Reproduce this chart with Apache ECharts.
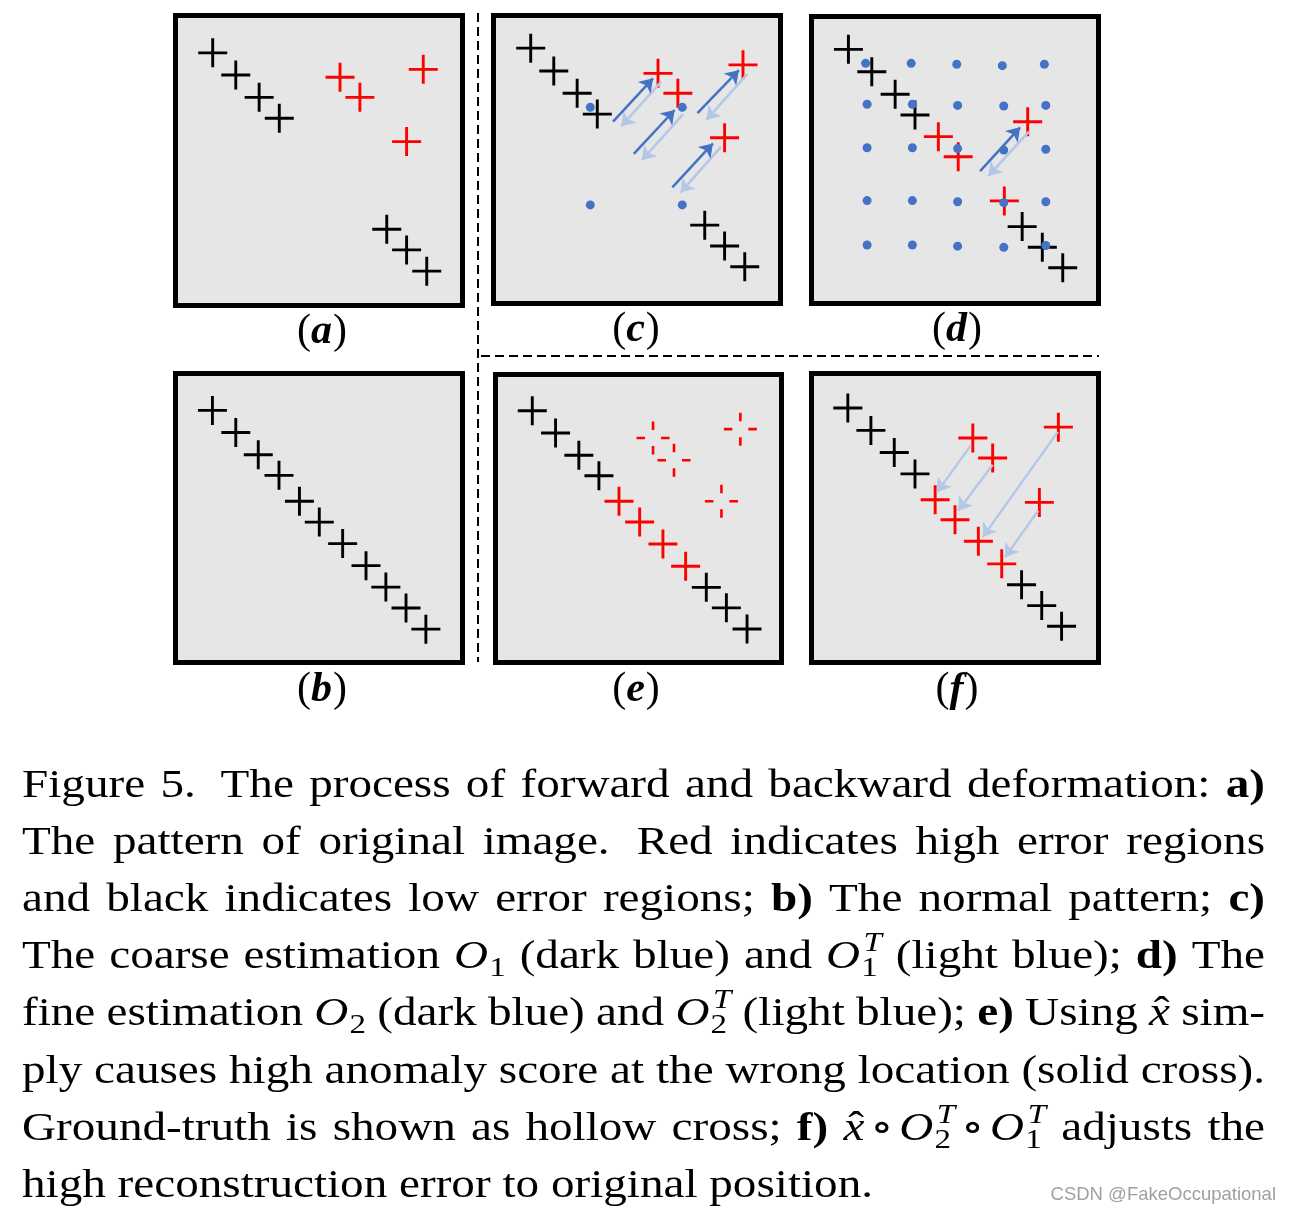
<!DOCTYPE html>
<html><head><meta charset="utf-8">
<script src="https://cdn.jsdelivr.net/npm/echarts@6/dist/echarts.min.js"></script>
<style>html,body{margin:0;padding:0;background:#fff}#c{width:1290px;height:1213px}</style>
</head><body><div id="c"></div>
<script>
// ---------------- DATA (percent of panel box, y measured from top) ----------------
const blackA = [[13.6,13.5],[21.5,21.0],[29.5,28.6],[36.4,35.7],[73.2,73.3],[80.0,80.3],[86.9,87.5]];
const redA   = [[57.2,21.8],[64.0,28.6],[85.7,19.1],[80.0,43.6]];

const blackB = [[13.5,13.4],[21.5,20.9],[29.2,28.5],[36.3,35.5],[43.3,44.3],[50.1,51.4],[58.1,58.7],[66.1,66.2],[72.9,73.5],[79.8,80.6],[86.6,87.8]];

const blackC = [[13.6,12.0],[21.5,19.8],[29.5,27.4],[36.4,34.5],[73.2,72.4],[80.0,79.5],[86.9,86.6]];
const redC   = [[57.2,20.6],[64.0,27.4],[86.3,17.7],[80.0,42.6]];
const dotsC  = [[34.0,32.2],[65.5,32.2],[34.0,65.5],[65.5,65.5]];
const darkArrowsC  = [[[41.8,37.1],[55.5,22.3]],[[48.9,48.1],[62.9,33.1]],[[70.7,34.2],[84.9,19.5]],[[62.1,59.5],[76.0,44.5]]];
const lightArrowsC = [[[58.3,23.4],[44.6,38.7]],[[65.8,34.5],[51.7,50.2]],[[87.8,20.8],[73.8,36.5]],[[78.8,45.6],[64.9,61.3]]];

const blackD = [[13.5,12.1],[21.5,19.8],[29.5,27.5],[36.3,34.6],[73.0,72.8],[79.9,79.9],[86.9,86.9]];
const redD   = [[44.3,42.0],[51.1,48.9],[74.9,36.9],[66.9,64.0]];
const dotsD  = [
  [19.4,16.9],[35.0,16.9],[50.6,17.2],[66.2,17.7],[80.6,17.2],
  [19.9,30.9],[35.4,30.9],[50.9,31.3],[66.7,31.5],[81.1,31.3],
  [19.9,45.8],[35.4,45.8],[50.9,46.1],[66.7,46.6],[81.1,46.3],
  [19.9,63.9],[35.4,63.9],[50.9,64.3],[66.7,64.6],[81.1,64.3],
  [19.9,79.1],[35.4,79.1],[50.9,79.5],[66.7,79.9],[81.1,79.3]
];
const darkArrowsD  = [[[58.6,53.8],[72.3,38.8]]];
const lightArrowsD = [[[75.3,40.3],[61.4,55.5]]];

const blackE  = [[13.5,13.2],[21.5,20.8],[29.5,28.4],[36.4,35.4],[73.3,73.5],[80.2,80.5],[87.3,87.7]];
const redE    = [[43.3,44.1],[50.4,51.2],[58.4,58.7],[66.2,66.3]];
const hollowE = [[55.0,22.5],[62.2,30.1],[85.0,19.5],[78.5,44.1]];

const blackF = [[13.3,12.6],[21.2,20.2],[29.2,27.7],[36.3,35.0],[72.8,72.7],[79.7,79.8],[86.5,86.8]];
const redF   = [[43.2,43.8],[50.0,50.6],[58.0,57.9],[66.0,65.6],[56.1,22.8],[62.9,29.6],[85.4,19.1],[78.9,44.7]];
const lightArrowsF = [[[55.4,25.3],[43.9,41.2]],[[62.9,31.9],[51.1,47.5]],[[85.2,20.7],[59.5,56.5]],[[78.5,47.5],[67.1,63.4]]];

const panelLabels = ['a','b','c','d','e','f'];

const captionLines = [
  'Figure 5.~ The process of forward and backward deformation: **a)**',
  'The pattern of original image.~ Red indicates high error regions',
  'and black indicates low error regions; **b)** The normal pattern; **c)**',
  'The coarse estimation {O1} (dark blue) and {O1T} (light blue); **d)** The',
  'fine estimation {O2} (dark blue) and {O2T} (light blue); **e)** Using {xhat} sim-',
  'ply causes high anomaly score at the wrong location (solid cross).',
  'Ground-truth is shown as hollow cross; **f)** {xOO} adjusts the',
  'high reconstruction error to original position.'
];
const watermark = 'CSDN @FakeOccupational';

// ---------------- LAYOUT ----------------
const boxes = {
  a:[173,13,292,295], b:[173,371,292,294], c:[491,13,292,293],
  d:[809,14,292,292], e:[493,372,291,293], f:[809,371,292,294]
};
const labelPos = {a:[322,343], b:[322,701], c:[636,341], d:[957,341], e:[636,701], f:[957,701]};

const CROSS = 'path://M-1.5,-15h3v30h-3z M-15,-1.5h30v3h-30z';
const HOLLOW = 'path://M-1.3,-16.5h2.6v8.5h-2.6z M-1.3,8h2.6v8.5h-2.6z M-16.5,-1.3h8.5v2.6h-8.5z M8,-1.3h8.5v2.6h-8.5z';
const RED = '#ff0000', BLACK = '#000000', DARKBLUE = '#4472c4', LIGHTBLUE = '#b4c7e7';

const grids = [], xAxes = [], yAxes = [], series = [];
panelLabels.forEach((k, i) => {
  const [x, y, w, h] = boxes[k];
  grids.push({left:x+2.5, top:y+2.5, width:w-5, height:h-5, show:true,
    backgroundColor:'#e6e6e6', borderColor:'#000', borderWidth:5, containLabel:false});
  const px = 2.5/w*100, py = 2.5/h*100;
  xAxes.push({gridIndex:i, type:'value', min:px, max:100-px, show:false});
  yAxes.push({gridIndex:i, type:'value', min:py, max:100-py, inverse:true, show:false});
});
const idx = k => panelLabels.indexOf(k);

function scatter(k, data, color, symbol, size, z) {
  series.push({type:'scatter', xAxisIndex:idx(k), yAxisIndex:idx(k), data, symbol, symbolSize:size,
    itemStyle:{color, opacity:1}, silent:true, z, emphasis:{disabled:true}});
}
function arrows(k, data, color, z) {
  series.push({type:'lines', coordinateSystem:'cartesian2d', xAxisIndex:idx(k), yAxisIndex:idx(k),
    data: data.map(c => ({coords:c})), symbol:['none','arrow'], symbolSize:[0,13],
    lineStyle:{color, width:2.5, opacity:1, curveness:0}, silent:true, z, emphasis:{disabled:true}});
}
scatter('a', blackA, BLACK, CROSS, 29, 2); scatter('a', redA, RED, CROSS, 29, 2);
scatter('b', blackB, BLACK, CROSS, 29, 2);
scatter('c', blackC, BLACK, CROSS, 29, 2); scatter('c', redC, RED, CROSS, 29, 2);
scatter('c', dotsC, DARKBLUE, 'circle', 9, 3);
arrows('c', lightArrowsC, LIGHTBLUE, 4); arrows('c', darkArrowsC, DARKBLUE, 5);
scatter('d', blackD, BLACK, CROSS, 29, 2); scatter('d', redD, RED, CROSS, 29, 2);
scatter('d', dotsD, DARKBLUE, 'circle', 9, 3);
arrows('d', lightArrowsD, LIGHTBLUE, 4); arrows('d', darkArrowsD, DARKBLUE, 5);
scatter('e', blackE, BLACK, CROSS, 29, 2); scatter('e', redE, RED, CROSS, 29, 2);
scatter('e', hollowE, RED, HOLLOW, 33, 2);
scatter('f', blackF, BLACK, CROSS, 29, 2); scatter('f', redF, RED, CROSS, 29, 2);
arrows('f', lightArrowsF, LIGHTBLUE, 4);

// ---------------- TEXT ----------------
const ctx = document.createElement('canvas').getContext('2d');
const FAM = '"Liberation Serif", "DejaVu Serif", serif';
const FS = 40;
function fontOf(f, size) {
  return (f.includes('i') ? 'italic ' : '') + (f.includes('b') ? 'bold ' : '') + size + 'px ' + FAM;
}
function baseOff(font, size) {
  try {
    ctx.font = font; ctx.textBaseline = 'alphabetic';
    const a = ctx.measureText('Hg').fontBoundingBoxAscent;
    ctx.textBaseline = 'middle';
    const m = ctx.measureText('Hg').fontBoundingBoxAscent;
    ctx.textBaseline = 'alphabetic';
    if (isFinite(a) && isFinite(m)) return a - m;
  } catch (e) {}
  return 0.3375 * size;
}
const SUB = 8, SUP = -17, SM = 0.7;
const O1 = [{t:'O',f:'i'},{t:'1',f:'r',s:SM,dy:SUB,dx:1}];
const O2 = [{t:'O',f:'i'},{t:'2',f:'r',s:SM,dy:SUB,dx:1}];
const O1T = [{t:'O',f:'i'},{t:'T',f:'i',s:SM,dy:SUP,dx:3},{t:'1',f:'r',s:SM,dy:SUB,dx:1,stack:true}];
const O2T = [{t:'O',f:'i'},{t:'T',f:'i',s:SM,dy:SUP,dx:3},{t:'2',f:'r',s:SM,dy:SUB,dx:1,stack:true}];
const XHAT = [{t:'x',f:'i'},{t:'\u02C6',f:'r',stack:true,dx:4,dy:-1}];
const CIRC = [{gap:5},{t:'\u2218',f:'r'},{gap:5}];
const MATH = {'{O1}':O1, '{O2}':O2, '{O1T}':O1T, '{O2T}':O2T, '{xhat}':XHAT,
  '{xOO}': [].concat(XHAT, CIRC, O2T, CIRC, O1T)};

function wordPieces(w) {
  if (MATH[w]) return MATH[w];
  let extra = 0;
  if (w.endsWith('~')) { w = w.slice(0, -1); extra = 8; }
  let f = 'r';
  if (w.startsWith('**')) { f = 'b'; w = w.replace(/\*\*/g, ''); }
  const ps = [{t:w, f}];
  if (extra) ps.push({gap:extra});
  return ps;
}
function layoutWord(ps, fs) {
  let x = 0, prevStart = 0; const out = [];
  for (const p of ps) {
    if (p.gap != null) { x += p.gap; prevStart = x; continue; }
    const size = fs * (p.s || 1);
    const font = fontOf(p.f, size);
    ctx.font = font;
    const w = ctx.measureText(p.t).width;
    const start = p.stack ? prevStart : x;
    const px = start + (p.dx || 0);
    out.push({t:p.t, font, x:px, dy:p.dy || 0, size});
    x = p.stack ? Math.max(x, px + w) : px + w;
    if (!p.stack) prevStart = start;
  }
  return {out, width:x};
}
const graphics = [];
function mkText(text, font, size, x, baseline, fill, sx) {
  graphics.push({type:'text', x:x, y:baseline - baseOff(font, size), scaleX: sx || 1, silent:true, z:10,
    style:{text, font, fill, align:'left', verticalAlign:'middle'}});
}

const CAP_LEFT = 22, CAP_RIGHT = 1265, CAP_BASE0 = 797, CAP_LH = 57.1, LAST_RIGHT = 873;
ctx.font = fontOf('r', FS);
const SPACE = ctx.measureText(' ').width;
const lastNatural = (() => {
  const ws = captionLines[captionLines.length - 1].split(' ').map(w => layoutWord(wordPieces(w), FS));
  return ws.reduce((s, w) => s + w.width, 0) + SPACE * (ws.length - 1);
})();
const SX = (LAST_RIGHT - CAP_LEFT) / lastNatural;

captionLines.forEach((line, li) => {
  const words = line.split(' ').map(w => layoutWord(wordPieces(w), FS));
  const total = words.reduce((s, w) => s + w.width, 0) * SX;
  const justify = li < captionLines.length - 1;
  const gap = justify ? (CAP_RIGHT - CAP_LEFT - total) / (words.length - 1) : SPACE * SX;
  let x = CAP_LEFT;
  const base = CAP_BASE0 + li * CAP_LH;
  words.forEach(w => {
    w.out.forEach(p => mkText(p.t, p.font, p.size, x + p.x * SX, base + p.dy, '#000', SX));
    x += w.width * SX + gap;
  });
});

// panel labels "(a)" etc.
const LFS = 42;
panelLabels.forEach(k => {
  const lw = layoutWord([{t:'(',f:'r'},{t:k,f:'bi'},{t:')',f:'r',dx:1}], LFS);
  const [cx, base] = labelPos[k];
  const x0 = cx - lw.width / 2;
  lw.out.forEach(p => mkText(p.t, p.font, p.size, x0 + p.x, base + p.dy, '#000'));
});

// watermark
(function () {
  const font = '18.5px "Liberation Sans", Arial, sans-serif';
  ctx.font = font;
  const w = ctx.measureText(watermark).width;
  mkText(watermark, font, 18.5, 1276 - w, 1200, '#a0a0a0');
})();

// dashed separators
graphics.push({type:'line', silent:true, z:1, shape:{x1:478, y1:13, x2:478, y2:662},
  style:{stroke:'#000', lineWidth:2, lineDash:[9,5]}});
graphics.push({type:'line', silent:true, z:1, shape:{x1:481, y1:356, x2:1099, y2:356},
  style:{stroke:'#000', lineWidth:2, lineDash:[9,5]}});

const chart = echarts.init(document.getElementById('c'), null, {renderer:'canvas'});
chart.setOption({
  animation:false,
  backgroundColor:'#ffffff',
  grid:grids, xAxis:xAxes, yAxis:yAxes, series,
  graphic:{elements:graphics}
});
</script>
</body></html>
